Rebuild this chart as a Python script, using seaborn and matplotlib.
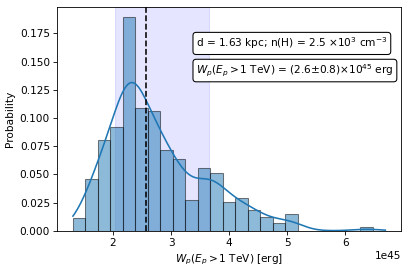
import numpy as np
import pandas as pd
import seaborn as sns
import matplotlib
matplotlib.use("Agg")
import matplotlib.pyplot as plt

# sample range and binning (25 bins)
w_min = 1.309
w_max = 6.69
n_bins = 25

# probability per bin
probs = [0.0116, 0.0462, 0.0806, 0.0922, 0.1893, 0.1093, 0.1064, 0.0717,
         0.0635, 0.0276, 0.0555, 0.0510, 0.0258, 0.0288, 0.0184, 0.0124,
         0.0071, 0.0148, 0.0, 0.0, 0.0, 0.0, 0.0, 0.0035, 0.0]

w_median = 2.564
w_lo = 2.029
w_hi = 3.657

edges = np.linspace(w_min, w_max, n_bins + 1) * 1e45
centers = 0.5 * (edges[:-1] + edges[1:])
# add the sample extremes with zero weight so the kde spans the full range
df = pd.DataFrame({
    "W": np.concatenate([[w_min * 1e45], centers, [w_max * 1e45]]),
    "p": np.concatenate([[0.0], probs, [0.0]]),
})

dpi = 76
fig = plt.figure(figsize=(408 / dpi, 271 / dpi), dpi=dpi)
ax = fig.add_axes([57.3 / 408, 1 - 230.7 / 271, (401 - 57.3) / 408, (230.7 - 6.7) / 271])

sns.histplot(data=df, x="W", weights="p", bins=n_bins,
             binrange=(w_min * 1e45, w_max * 1e45), stat="count", kde=True,
             alpha=0.5, edgecolor=(0, 0, 0, 0.5), linewidth=1.0,
             kde_kws={"bw_adjust": 0.44}, ax=ax)
ax.axvspan(w_lo * 1e45, w_hi * 1e45, color="blue", alpha=0.1, zorder=0)
ax.axvline(w_median * 1e45, color="k", ls="--")

ax.set_ylabel("Probability")
ax.set_xlabel(r"$W_p(E_p > 1$ TeV) [erg]")

box = dict(boxstyle="round", facecolor="white", edgecolor="black")
ax.text(0.404, 0.836, r"d = 1.63 kpc; n(H) = 2.5 $\times$10$^3$ cm$^{-3}$",
        transform=ax.transAxes, va="center", ha="left", bbox=box)
ax.text(0.404, 0.715, r"$W_p(E_p > 1$ TeV) = (2.6$\pm$0.8)$\times$10$^{45}$ erg",
        transform=ax.transAxes, va="center", ha="left", bbox=box)

fig.savefig("out.png", dpi=dpi)
